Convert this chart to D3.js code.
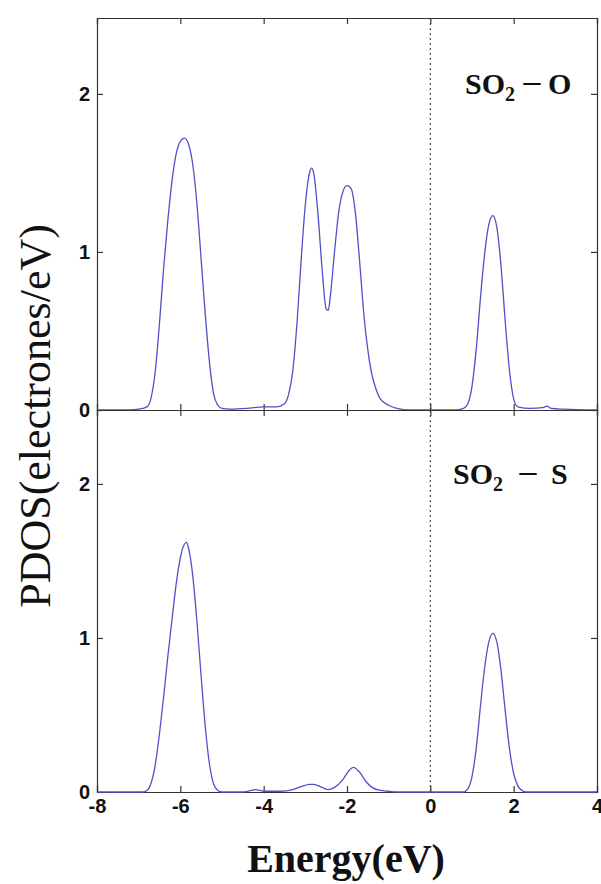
<html>
<script src='https://d3js.org/d3.v7.min.js'></script>
<style>
body {margin:0; background:white;}
.tk text {font-family: 'Liberation Sans', Arial, sans-serif; font-weight: bold; font-size: 20px; fill: #111;}
.tk path, .tk line {stroke: #333; stroke-width: 1.2;}
.serif {font-family: 'Liberation Serif', 'Times New Roman', serif; fill: #111;}
</style>
<body onload='init()'>
<svg width=601 height=884></svg>
<script>
// SO2 - O projected DOS
var energyO = [-8,-7.2,-7.0,-6.8,-6.7,-6.6,-6.5,-6.4,-6.3,-6.2,-6.1,-6.0,-5.9,-5.8,-5.7,-5.6,-5.5,-5.4,-5.3,-5.2,-5.1,-5.0,-4.8,-4.4,-4.0,-3.7,-3.5,-3.4,-3.3,-3.2,-3.1,-3.0,-2.9,-2.85,-2.8,-2.7,-2.6,-2.5,-2.45,-2.4,-2.3,-2.2,-2.1,-2.0,-1.9,-1.8,-1.7,-1.6,-1.5,-1.4,-1.3,-1.2,-1.0,-0.8,-0.5,0,0.6,0.8,0.9,1.0,1.1,1.2,1.3,1.4,1.5,1.6,1.7,1.8,1.9,2.0,2.1,2.4,2.7,2.8,2.9,3.2,4];
var pdosO   = [0,0,0.005,0.02,0.08,0.25,0.55,0.9,1.2,1.45,1.62,1.70,1.72,1.68,1.55,1.3,0.95,0.6,0.3,0.1,0.03,0.01,0.005,0.01,0.02,0.02,0.04,0.1,0.25,0.55,0.95,1.3,1.5,1.53,1.5,1.25,0.9,0.64,0.63,0.72,1.0,1.25,1.38,1.42,1.40,1.25,0.95,0.62,0.38,0.22,0.13,0.07,0.03,0.01,0,0,0,0.01,0.04,0.15,0.38,0.7,0.98,1.17,1.23,1.15,0.9,0.55,0.25,0.07,0.02,0.01,0.015,0.025,0.01,0.005,0];

// SO2 - S projected DOS
var energyS = [-8,-6.9,-6.8,-6.7,-6.6,-6.5,-6.4,-6.3,-6.2,-6.1,-6.0,-5.9,-5.85,-5.8,-5.7,-5.6,-5.5,-5.4,-5.3,-5.2,-5.1,-5.0,-4.5,-4.3,-4.2,-4.0,-3.6,-3.3,-3.1,-2.9,-2.8,-2.6,-2.45,-2.3,-2.1,-1.95,-1.85,-1.7,-1.55,-1.4,-1.2,-1.0,-0.8,0,0.8,0.9,1.0,1.1,1.2,1.3,1.4,1.5,1.6,1.7,1.8,1.9,2.0,2.1,2.2,2.3,4];
var pdosS   = [0,0,0.01,0.06,0.18,0.38,0.62,0.88,1.12,1.35,1.52,1.61,1.62,1.58,1.4,1.1,0.75,0.42,0.18,0.05,0.01,0,0,0.01,0.015,0.005,0.005,0.015,0.035,0.05,0.05,0.03,0.015,0.03,0.08,0.14,0.16,0.13,0.07,0.03,0.01,0.005,0,0,0,0.02,0.1,0.28,0.55,0.8,0.97,1.03,0.97,0.78,0.52,0.28,0.12,0.04,0.01,0,0];

var xTicks = [-8,-6,-4,-2,0,2,4];
var yTicks = [0,1,2];
var panelLabels = ['O','S'];

function init() {
	var svg = d3.select('svg');
	svg.append('rect').attr('width',601).attr('height',884).attr('fill','white');

	var left = 97, right = 597;
	var x = d3.scaleLinear().domain([-8,4]).range([left,right]);

	var panels = [
		{e: energyO, v: pdosO, top: 18, bottom: 410, name: panelLabels[0], lx: 465, mx: 521, ex: 548},
		{e: energyS, v: pdosS, top: 410, bottom: 792, name: panelLabels[1], lx: 453, mx: 517, ex: 551}
	];

	panels.forEach(function(p, i) {
		var y = d3.scaleLinear().domain([0,2.48]).range([p.bottom, p.top]);
		var pts = p.e.map(function(d,k){ return [d, p.v[k]]; });

		// fermi level (dotted)
		svg.append('line')
			.attr('x1', x(0)).attr('x2', x(0))
			.attr('y1', p.top).attr('y2', p.bottom)
			.attr('stroke','#444').attr('stroke-width',1.2)
			.attr('stroke-dasharray','2,3');

		// frame + inward ticks
		svg.append('g').attr('class','tk')
			.attr('transform','translate('+left+',0)')
			.call(d3.axisLeft(y).tickValues(yTicks).tickSize(-6).tickPadding(7).tickFormat(d3.format('d')));
		svg.append('g').attr('class','tk')
			.attr('transform','translate('+right+',0)')
			.call(d3.axisRight(y).tickValues(yTicks).tickSize(-6).tickFormat(''));
		svg.append('g').attr('class','tk')
			.attr('transform','translate(0,'+p.top+')')
			.call(d3.axisTop(x).tickValues(xTicks).tickSize(-6).tickFormat(''));
		svg.append('g').attr('class','tk')
			.attr('transform','translate(0,'+p.bottom+')')
			.call(d3.axisBottom(x).tickValues(xTicks).tickSize(-6).tickPadding(7)
				.tickFormat(i == 1 ? function(d){ return String(d); } : ''));

		// curve
		svg.append('path')
			.datum(pts)
			.attr('fill','none')
			.attr('stroke','#5050c8')
			.attr('stroke-width',1.3)
			.attr('d', d3.line().x(function(d){return x(d[0]);}).y(function(d){return y(d[1]);}).curve(d3.curveMonotoneX));

		// panel label  SO2 - X
		var g = svg.append('g').attr('class','serif').style('font-weight','bold');
		var t = g.append('text').attr('x', p.lx).attr('y', y(2)).style('font-size','30px');
		t.append('tspan').text('SO');
		t.append('tspan').text('2').style('font-size','20px').attr('dy', 7);
		g.append('text').attr('x', p.mx).attr('y', y(2)).style('font-size','30px')
			.attr('transform','translate('+p.mx+',0) scale(1.25,1) translate('+(-p.mx)+',0)').text('\u2212');
		g.append('text').attr('x', p.ex).attr('y', y(2)).style('font-size','30px').text(p.name);
	});

	// axis titles
	svg.append('text').attr('class','serif')
		.attr('transform','translate(50,416) rotate(-90)')
		.attr('text-anchor','middle')
		.style('font-size','44px')
		.text('PDOS(electrones/eV)');
	svg.append('text').attr('class','serif')
		.attr('x', 346).attr('y', 872)
		.attr('text-anchor','middle')
		.style('font-size','40px').style('font-weight','bold')
		.text('Energy(eV)');
}
</script>
</body>
</html>
